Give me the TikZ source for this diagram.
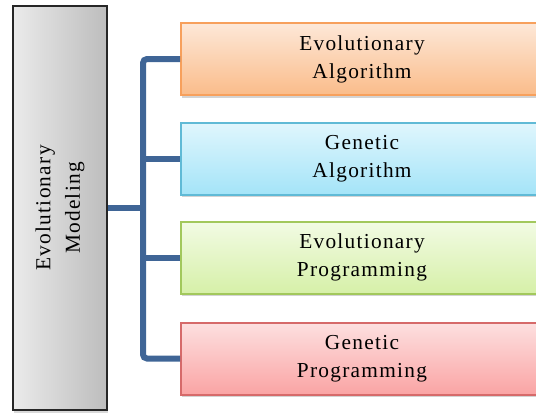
\documentclass[tikz,border=0pt]{standalone}
\usepackage{fontspec}
\setmainfont{Liberation Serif}
\newfontfamily\boxfont[LetterSpace=6]{Liberation Serif}
\usetikzlibrary{calc,shadows}
\definecolor{linkblue}{RGB}{63,101,150}
\definecolor{orangeline}{RGB}{247,160,92}
\definecolor{orangetop}{RGB}{253,232,216}
\definecolor{orangebot}{RGB}{250,188,138}
\definecolor{blueline}{RGB}{96,186,214}
\definecolor{bluetop}{RGB}{224,246,253}
\definecolor{bluebot}{RGB}{164,228,248}
\definecolor{greenline}{RGB}{162,200,92}
\definecolor{greentop}{RGB}{242,251,228}
\definecolor{greenbot}{RGB}{214,240,168}
\definecolor{redline}{RGB}{214,106,106}
\definecolor{redtop}{RGB}{253,224,224}
\definecolor{redbot}{RGB}{250,164,164}
\tikzset{
  method/.style={draw=#1line, line width=1.5pt, top color=#1top, bottom color=#1bot,
    minimum width=271.5pt, minimum height=54pt, align=center,
    font=\boxfont\fontsize{16}{21}\selectfont,
    drop shadow={shadow xshift=1pt, shadow yshift=-2pt, opacity=.35}},
  link/.style={draw=linkblue, line width=4.5pt, rounded corners=3pt}
}

\begin{document}
\begin{tikzpicture}[x=.75pt,y=-.75pt]
\useasboundingbox (0,0) rectangle (536,412);
\clip (0,0) rectangle (536,412);
\node [draw=black!85, line width=1.5pt, rotate=90, left color=gray!16, right color=gray!52,
  minimum width=303pt, minimum height=70.5pt, align=center,
  font=\boxfont\fontsize{16}{22}\selectfont,
  drop shadow={shadow xshift=1pt, shadow yshift=-2pt, opacity=.3}]
  (model) at (60,208) {Evolutionary\\Modeling};
\node [method=orange] (ea) at (362,59) {Evolutionary\\Algorithm};
\node [method=blue] (ga) at (362,158.5) {Genetic\\Algorithm};
\node [method=green] (ep) at (362,257.5) {Evolutionary\\Programming};
\node [method=red] (gp) at (362,358.5) {Genetic\\Programming};
\coordinate (trunk) at (143,208);
\draw [link] (ea.west) -| (trunk) |- (gp.west);
\draw [link] (trunk |- ga.west) -- (ga.west);
\draw [link] (trunk |- ep.west) -- (ep.west);
\draw [link] (model.south) -- (trunk);
\end{tikzpicture}
\end{document}
